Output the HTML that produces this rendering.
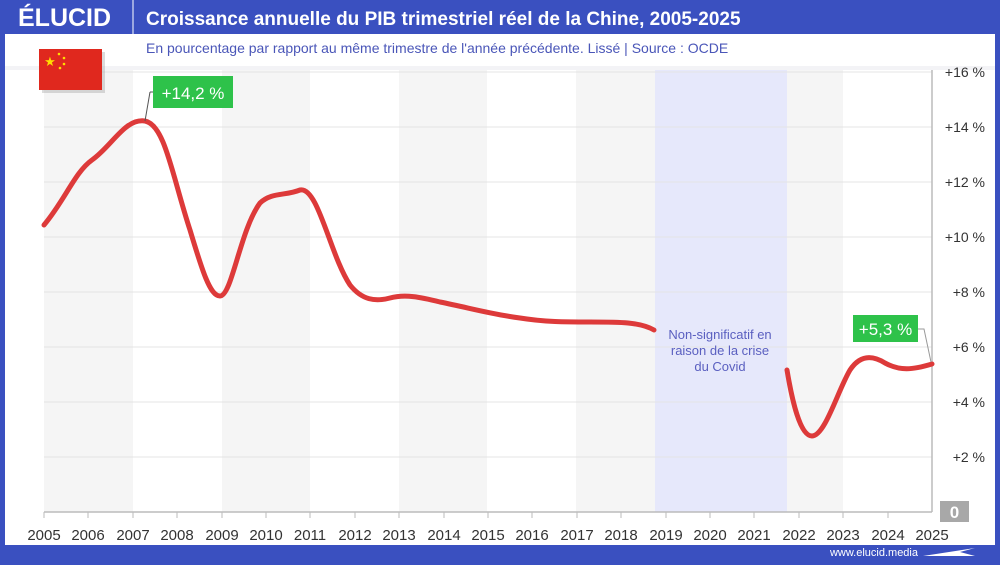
<!DOCTYPE html>
<html><head><meta charset="utf-8"><style>
body{margin:0;width:1000px;height:560px;overflow:hidden;background:#3a50c0;font-family:"Liberation Sans",sans-serif}
</style></head><body>
<svg width="1000" height="560" viewBox="0 0 1000 560" xmlns="http://www.w3.org/2000/svg" font-family="Liberation Sans, sans-serif">
<rect x="0" y="0" width="1000" height="560" fill="#3a50c0"/>
<rect x="5" y="34" width="990" height="511" fill="#fff"/>
<line x1="133" y1="0" x2="133" y2="34" stroke="#fff" stroke-width="1"/>
<text x="18" y="26" font-size="25" font-weight="bold" fill="#fff">ÉLUCID</text>
<text x="146" y="25" font-size="19" font-weight="bold" fill="#fff">Croissance annuelle du PIB trimestriel réel de la Chine, 2005-2025</text>
<text x="146" y="53" font-size="14" fill="#4a56b8">En pourcentage par rapport au même trimestre de l'année précédente. Lissé  |  Source : OCDE</text>
<rect x="5" y="66" width="990" height="4" fill="#f3f3f6"/>
<g fill="#f5f5f5">
<rect x="44" y="70" width="89" height="442"/>
<rect x="222" y="70" width="88" height="442"/>
<rect x="399" y="70" width="88" height="442"/>
<rect x="576" y="70" width="79" height="442"/>
<rect x="787" y="70" width="56" height="442"/>
</g>
<rect x="655" y="70" width="132" height="442" fill="#e6e8fb"/>
<g stroke="#e4e4e4" stroke-width="1">
<line x1="44" y1="72" x2="932" y2="72"/><line x1="44" y1="127" x2="932" y2="127"/>
<line x1="44" y1="182" x2="932" y2="182"/><line x1="44" y1="237" x2="932" y2="237"/>
<line x1="44" y1="292" x2="932" y2="292"/><line x1="44" y1="347" x2="932" y2="347"/>
<line x1="44" y1="402" x2="932" y2="402"/><line x1="44" y1="457" x2="932" y2="457"/>
</g>
<line x1="932" y1="70" x2="932" y2="512" stroke="#bbb" stroke-width="1.5"/>
<line x1="44" y1="512" x2="932" y2="512" stroke="#bbb" stroke-width="1.5"/>
<g stroke="#bbb"><line x1="44" y1="512" x2="44" y2="518"/><line x1="88" y1="512" x2="88" y2="518"/><line x1="133" y1="512" x2="133" y2="518"/><line x1="177" y1="512" x2="177" y2="518"/><line x1="222" y1="512" x2="222" y2="518"/><line x1="266" y1="512" x2="266" y2="518"/><line x1="310" y1="512" x2="310" y2="518"/><line x1="355" y1="512" x2="355" y2="518"/><line x1="399" y1="512" x2="399" y2="518"/><line x1="444" y1="512" x2="444" y2="518"/><line x1="488" y1="512" x2="488" y2="518"/><line x1="532" y1="512" x2="532" y2="518"/><line x1="577" y1="512" x2="577" y2="518"/><line x1="621" y1="512" x2="621" y2="518"/><line x1="666" y1="512" x2="666" y2="518"/><line x1="710" y1="512" x2="710" y2="518"/><line x1="754" y1="512" x2="754" y2="518"/><line x1="799" y1="512" x2="799" y2="518"/><line x1="843" y1="512" x2="843" y2="518"/><line x1="888" y1="512" x2="888" y2="518"/></g>
<g font-size="15" fill="#333" text-anchor="middle">
<text x="44" y="540">2005</text><text x="88" y="540">2006</text><text x="133" y="540">2007</text><text x="177" y="540">2008</text><text x="222" y="540">2009</text><text x="266" y="540">2010</text><text x="310" y="540">2011</text><text x="355" y="540">2012</text><text x="399" y="540">2013</text><text x="444" y="540">2014</text><text x="488" y="540">2015</text><text x="532" y="540">2016</text><text x="577" y="540">2017</text><text x="621" y="540">2018</text><text x="666" y="540">2019</text><text x="710" y="540">2020</text><text x="754" y="540">2021</text><text x="799" y="540">2022</text><text x="843" y="540">2023</text><text x="888" y="540">2024</text><text x="932" y="540">2025</text>
</g>
<g font-size="14" fill="#333" text-anchor="end">
<text x="985" y="77">+16 %</text><text x="985" y="132">+14 %</text><text x="985" y="187">+12 %</text><text x="985" y="242">+10 %</text><text x="985" y="297">+8 %</text><text x="985" y="352">+6 %</text><text x="985" y="407">+4 %</text><text x="985" y="462">+2 %</text>
</g>
<rect x="940" y="501" width="29" height="21" fill="#a8a8a8"/>
<text x="954.5" y="518" font-size="17" font-weight="bold" fill="#fff" text-anchor="middle">0</text>
<g fill="none" stroke="#dd3a3a" stroke-width="5" stroke-linecap="round">
<path d="M44,225 C65,200 75,172 92,160 C112,146 125,118 145,121 C165,125 172,175 190,230 C202,270 210,296 220,296 C232,296 240,230 260,203 C272,192 285,196 300,190 C318,186 330,255 350,285 C362,300 375,302 390,298 C405,294 420,297 440,302 C470,308 490,314 520,318 C545,322 565,322 590,322 C620,322 640,322 654,330"/>
<path d="M787,370 C792,400 800,436 812,436 C825,436 838,390 850,370 C860,355 872,355 885,363 C900,371 912,370 932,364"/>
</g>
<line x1="145" y1="121" x2="150" y2="92" stroke="#555" stroke-width="1"/>
<line x1="150" y1="92" x2="153" y2="92" stroke="#555"/>
<rect x="153" y="76" width="80" height="32" fill="#2ec24a"/>
<text x="193" y="99" font-size="17" fill="#fff" text-anchor="middle">+14,2 %</text>
<polyline points="917,329 924,329 931,362" fill="none" stroke="#999" stroke-width="1"/>
<rect x="853" y="315" width="65" height="27" fill="#2ec24a"/>
<text x="885.5" y="335" font-size="17" fill="#fff" text-anchor="middle">+5,3 %</text>
<g font-size="13" fill="#5a5fc0" text-anchor="middle">
<text x="720" y="339">Non-significatif en</text><text x="720" y="355">raison de la crise</text><text x="720" y="371">du Covid</text>
</g>
<rect x="42" y="52" width="63" height="41" fill="#999" opacity="0.35"/>
<rect x="39" y="49" width="63" height="41" fill="#e0281e"/>
<text x="50" y="66" font-size="13" fill="#ffde00" text-anchor="middle">★</text>
<g fill="#ffde00"><circle cx="59" cy="54" r="1.3"/><circle cx="64" cy="58" r="1.3"/><circle cx="64" cy="64" r="1.3"/><circle cx="60" cy="68" r="1.3"/></g>
<text x="918" y="556" font-size="11" fill="#fff" text-anchor="end">www.elucid.media</text>
<polygon points="923,556 975,548 960,552 975,556" fill="#fff"/>
</svg>
</body></html>
